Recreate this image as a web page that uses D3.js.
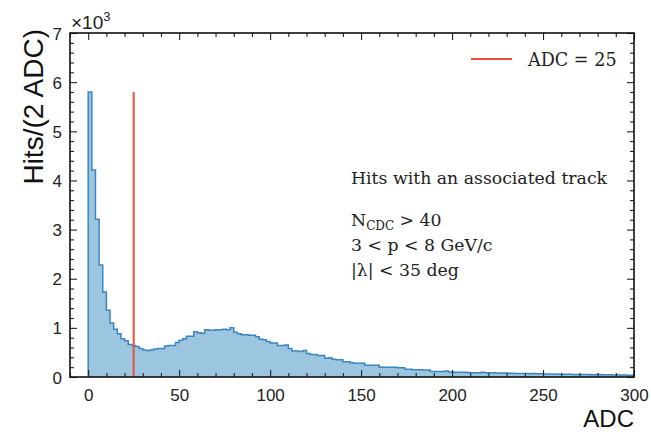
<!DOCTYPE html>
<html>
<head>
<meta charset="utf-8">
<script src="https://cdn.jsdelivr.net/npm/d3@7"></script>
<style>
html,body{margin:0;padding:0;background:#fff;}
svg{display:block;}
</style>
</head>
<body>
<svg id="chart" width="651" height="432"></svg>
<script>
// ---- data (Hits per 2 ADC, in units of 10^3) ----
const binStart = 0;
const binWidth = 2;
const hits = [
  5.80, 4.21, 3.21, 2.28, 1.73, 1.36, 1.10, 0.97, 0.88, 0.78,
  0.74, 0.66, 0.64, 0.62, 0.58, 0.55, 0.54, 0.55, 0.57, 0.58,
  0.58, 0.63, 0.64, 0.64, 0.70, 0.75, 0.78, 0.83, 0.83, 0.92,
  0.90, 0.89, 0.96, 0.95, 0.95, 0.96, 0.96, 0.97, 0.96, 1.00,
  0.91, 0.88, 0.86, 0.86, 0.85, 0.85, 0.82, 0.77, 0.76, 0.72,
  0.69, 0.69, 0.64, 0.64, 0.65, 0.58, 0.53, 0.53, 0.52, 0.54,
  0.48, 0.46, 0.46, 0.44, 0.44, 0.38, 0.39, 0.36, 0.35, 0.35,
  0.31, 0.31, 0.29, 0.28, 0.28, 0.28, 0.24, 0.24, 0.24, 0.24,
  0.20, 0.20, 0.20, 0.20, 0.20, 0.19, 0.19, 0.16, 0.16, 0.15,
  0.15, 0.15, 0.14, 0.14, 0.11, 0.11, 0.11, 0.11, 0.12, 0.10,
  0.095, 0.095, 0.095, 0.095, 0.09, 0.085, 0.085, 0.085, 0.095, 0.085,
  0.085, 0.085, 0.08, 0.08, 0.08, 0.075, 0.075, 0.07, 0.07, 0.07,
  0.07, 0.065, 0.07, 0.065, 0.065, 0.06, 0.06, 0.06, 0.06, 0.055,
  0.055, 0.055, 0.055, 0.05, 0.05, 0.05, 0.05, 0.05, 0.045, 0.045,
  0.05, 0.045, 0.045, 0.045, 0.04, 0.04, 0.04, 0.04, 0.035, 0.035
];
const adcCut = 25;
const adcCutTop = 5.8;
const xMajorTicks = [0, 50, 100, 150, 200, 250, 300];
const yMajorTicks = [0, 1, 2, 3, 4, 5, 6, 7];
const legendLabel = "ADC = 25";
const annotationTitle = "Hits with an associated track";

// ---- layout ----
const svg = d3.select("#chart");
const L = 70, R = 634, T = 33, B = 377;
const x = d3.scaleLinear().domain([-10, 300]).range([L, R]);
const y = d3.scaleLinear().domain([0, 7]).range([B, T]);

const fillColor = "#9cc5df";
const edgeColor = "#3a86c0";
const redColor = "#e4503c";

// histogram as stepfilled polygon
const pts = [[binStart, 0]];
hits.forEach((v, i) => {
  const x0 = binStart + i * binWidth;
  pts.push([x0, v]);
  pts.push([x0 + binWidth, v]);
});
pts.push([binStart + hits.length * binWidth, 0]);
const line = d3.line().x(d => x(d[0])).y(d => y(d[1]));
svg.append("path").attr("d", line(pts) + "Z")
  .attr("fill", fillColor).attr("stroke", "none");
svg.append("path").attr("d", line(pts))
  .attr("fill", "none").attr("stroke", edgeColor).attr("stroke-width", 1.5)
  .attr("stroke-linejoin", "miter");

// red cut line
svg.append("line")
  .attr("x1", x(adcCut)).attr("x2", x(adcCut))
  .attr("y1", y(0)).attr("y2", y(adcCutTop))
  .attr("stroke", redColor).attr("stroke-width", 2);

// axes with inward ticks on all four sides
const tickColor = "#222";
const xMinor = d3.range(-10, 301, 10).filter(v => v % 50 !== 0);
const yMinor = d3.range(0, 7.001, 0.2).map(v => +v.toFixed(1)).filter(v => Math.abs(v - Math.round(v)) > 1e-6);

function addAxis(axisFn, scale, ticks, size, tf, labels) {
  const g = svg.append("g").attr("transform", tf)
    .call(axisFn(scale).tickValues(ticks).tickSizeInner(-size).tickSizeOuter(0)
      .tickFormat(labels ? d3.format("d") : ""));
  g.select(".domain").remove();
  g.selectAll(".tick line").attr("stroke", tickColor).attr("stroke-width", 1.1);
  g.selectAll("text").attr("font-family", "Liberation Sans, Arial, sans-serif")
    .attr("font-size", 17).attr("fill", "#222");
  return g;
}
// bottom
const gxb = addAxis(d3.axisBottom, x, xMajorTicks, 7, `translate(0,${B})`, true);
gxb.selectAll("text").attr("dy", null).attr("y", 24);
addAxis(d3.axisBottom, x, xMinor, 4, `translate(0,${B})`, false);
// top
addAxis(d3.axisTop, x, xMajorTicks, 7, `translate(0,${T})`, false);
addAxis(d3.axisTop, x, xMinor, 4, `translate(0,${T})`, false);
// left
const gyl = addAxis(d3.axisLeft, y, yMajorTicks, 7, `translate(${L},0)`, true);
gyl.selectAll("text").attr("x", -8).attr("dy", "0.36em");
addAxis(d3.axisLeft, y, yMinor, 4, `translate(${L},0)`, false);
// right
addAxis(d3.axisRight, y, yMajorTicks, 7, `translate(${R},0)`, false);
addAxis(d3.axisRight, y, yMinor, 4, `translate(${R},0)`, false);

// frame
svg.append("rect").attr("x", L).attr("y", T).attr("width", R - L).attr("height", B - T)
  .attr("fill", "none").attr("stroke", "#111").attr("stroke-width", 1.6);

// multiplier label
const mult = svg.append("text").attr("x", L + 1).attr("y", 29)
  .attr("font-family", "Liberation Sans, Arial, sans-serif").attr("font-size", 19).attr("fill", "#222");
mult.append("tspan").text("×10");
mult.append("tspan").attr("font-size", 13).attr("dy", -8).text("3");

// axis labels
svg.append("text").attr("transform", `translate(43,${T - 4}) rotate(-90)`)
  .attr("text-anchor", "end")
  .attr("font-family", "Liberation Sans, Arial, sans-serif").attr("font-size", 28).attr("fill", "#111")
  .text("Hits/(2 ADC)");
svg.append("text").attr("x", R).attr("y", 426.5).attr("text-anchor", "end")
  .attr("font-family", "Liberation Sans, Arial, sans-serif").attr("font-size", 24).attr("fill", "#111")
  .text("ADC");

// legend
svg.append("line").attr("x1", 471).attr("x2", 512).attr("y1", 59).attr("y2", 59)
  .attr("stroke", redColor).attr("stroke-width", 2);
const serif = "DejaVu Serif, Liberation Serif, serif";
svg.append("text").attr("x", 528).attr("y", 66).attr("font-family", serif)
  .attr("font-size", 17.6).attr("fill", "#222").text(legendLabel);

// annotations
const ann = svg.append("g").attr("font-family", serif).attr("font-size", 17.3).attr("fill", "#222");
ann.append("text").attr("x", 351).attr("y", 184).text(annotationTitle);
const t1 = ann.append("text").attr("x", 351).attr("y", 226);
t1.append("tspan").text("N");
t1.append("tspan").attr("font-size", 12).attr("dy", 4).text("CDC");
t1.append("tspan").attr("dy", -4).text(" > 40");
ann.append("text").attr("x", 351).attr("y", 251).text("3 < p < 8 GeV/c");
ann.append("text").attr("x", 351).attr("y", 276).text("|λ| < 35 deg");
</script>
</body>
</html>
